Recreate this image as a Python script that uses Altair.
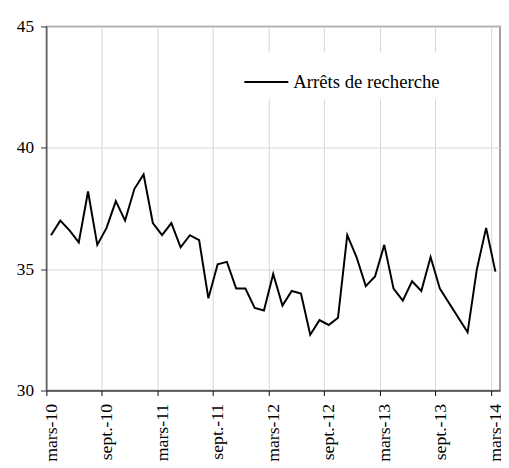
import json
import altair as alt
import pandas as pd

# Monthly values, mars-10 .. mars-14 (None = no point, line goes straight across)
values = [36.4, 37.0, 36.6, 36.1, 38.2, 36.0, 36.7, 37.8, 37.0, 38.3, 38.9, 36.9,
          36.4, 36.9, 35.9, 36.4, 36.2, 33.8, 35.2, 35.3, 34.2, 34.2, 33.4, 33.3,
          34.8, 33.5, 34.1, 34.0, 32.3, 32.9, 32.7, 33.0, 36.4, 35.5, 34.3, 34.7,
          36.0, 34.2, 33.7, 34.5, 34.1, 35.5, 34.2, None, None, 32.4, 35.0, 36.7,
          34.9]
tick_labels = ["mars-10", "sept.-10", "mars-11", "sept.-11", "mars-12",
               "sept.-12", "mars-13", "sept.-13", "mars-14"]
tick_positions = [0, 6, 12, 18, 24, 30, 36, 42, 48]
y_ticks = [30, 35, 40, 45]
series_name = "Arrêts de recherche"

rows = [{"i": i, "v": v, "series": series_name} for i, v in enumerate(values) if v is not None]
df = pd.DataFrame(rows)

FONT = "Liberation Serif, Times New Roman, Times, DejaVu Serif, serif"
label_expr = json.dumps(tick_labels) + "[round(datum.value / 6)]"

chart = alt.Chart(df).transform_calculate(
    xpos="datum.i + 0.5"
).mark_line(strokeWidth=2, color="black").encode(
    x=alt.X("xpos:Q",
            scale=alt.Scale(domain=[0, 49], nice=False, zero=False),
            axis=alt.Axis(values=tick_positions, labelExpr=label_expr, title=None,
                          labelAngle=270, labelFont=FONT, labelFontSize=18,
                          labelColor="black", labelPadding=8, labelOffset=5,
                          tickSize=5, tickColor="black", domainColor="black",
                          grid=True, gridColor="#d4d4d4", gridWidth=1,
                          labelBaseline="middle", labelAlign="right")),
    y=alt.Y("v:Q",
            scale=alt.Scale(domain=[30, 45], nice=False, zero=False),
            axis=alt.Axis(values=y_ticks, title=None, labelFont=FONT,
                          labelFontSize=17.5, labelColor="black", labelPadding=7,
                          tickSize=6, tickColor="#333333", domainColor="#333333",
                          grid=True, gridColor="#d4d4d4", gridWidth=1)),
    color=alt.Color("series:N",
                    scale=alt.Scale(range=["black"]),
                    legend=alt.Legend(title=None, orient="none", legendX=193, legendY=26,
                                      fillColor="white", padding=7,
                                      symbolType="stroke", symbolSize=2000,
                                      symbolStrokeWidth=2, labelFont=FONT,
                                      labelFontSize=19, labelColor="black",
                                      labelOffset=4)),
).properties(
    width=461, height=370,
    autosize=alt.AutoSizeParams(type="none"),
    padding={"left": 39, "top": 15, "right": 1, "bottom": 75},
).configure_view(stroke="#808080", strokeWidth=1.5)

chart.save("out.html", embed_options={"renderer": "svg", "actions": False})
